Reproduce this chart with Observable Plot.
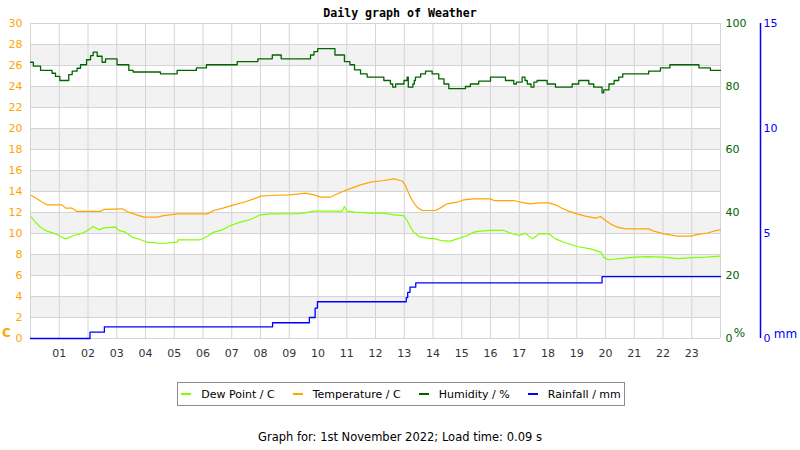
<!DOCTYPE html>
<html><head><meta charset="utf-8">
<script src="https://cdn.jsdelivr.net/npm/d3@7"></script>
<script src="https://cdn.jsdelivr.net/npm/@observablehq/plot@0.6"></script>
<style>
body{margin:0;background:#fff;}
#wrap{position:relative;width:800px;height:450px;font-family:"DejaVu Sans",sans-serif;overflow:hidden;}
#title{position:absolute;top:6px;left:0;width:800px;text-align:center;font:bold 11.6px "DejaVu Sans Mono",monospace;color:#000;}
#chart{position:absolute;top:0;left:0;}
#legend{position:absolute;left:177px;top:382px;width:448px;height:24px;border:1px solid #8c8c8c;display:flex;align-items:center;justify-content:center;box-sizing:border-box;font-size:11px;color:#000;white-space:nowrap;}
#legend .item{display:flex;align-items:center;flex-shrink:0;margin:0 9px;}
#legend .sw{display:inline-block;width:10px;height:2px;margin-right:10px;}
#caption{position:absolute;top:430px;left:0;width:800px;text-align:center;font-size:11.5px;color:#000;}
</style></head>
<body>
<div id="wrap">
  <div id="title"></div>
  <div id="chart"></div>
  <div id="legend"></div>
  <div id="caption"></div>
</div>
<script>
// ---- texts ----
const titleText = "Daily graph of Weather";
const captionText = "Graph for: 1st November 2022; Load time: 0.09 s";
const seriesNames = ["Dew Point / C", "Temperature / C", "Humidity / %", "Rainfall / mm"];
const seriesColors = ["#80ff00", "#ffa500", "#006400", "#0000ff"];

// ---- axis ticks ----
const hourTicks = [1,2,3,4,5,6,7,8,9,10,11,12,13,14,15,16,17,18,19,20,21,22,23];
const tempTicks = [0,2,4,6,8,10,12,14,16,18,20,22,24,26,28,30];
const humTicks = [0,20,40,60,80,100];
const rainTicks = [0,5,10,15];
const bandStarts = [2,6,10,14,18,22,26];

// ---- data (hour of day, value) ----
const tempHour = [0.03,0.23,0.41,0.58,1.1,1.22,1.45,1.62,2.43,2.55,3.19,3.36,3.59,3.94,4.41,4.64,5.1,6.15,6.38,6.72,7.07,7.42,7.77,8.0,8.35,9.04,9.57,9.86,10.09,10.43,10.67,11.01,11.48,11.83,12.29,12.64,12.93,13.04,13.16,13.28,13.45,13.62,14.09,14.26,14.49,14.84,15.07,15.42,16.0,16.12,16.81,17.04,17.39,17.68,18.03,18.26,18.49,18.72,19.01,19.3,19.65,19.83,20.0,20.17,20.41,20.7,21.51,21.68,22.03,22.49,22.96,23.19,23.54,23.88,24.0];
const tempC = [13.62,13.3,12.98,12.73,12.73,12.41,12.41,12.1,12.1,12.29,12.35,12.1,11.87,11.56,11.56,11.71,11.87,11.87,12.19,12.44,12.73,12.98,13.3,13.56,13.62,13.68,13.84,13.68,13.46,13.46,13.78,14.16,14.63,14.89,15.05,15.21,15.0,14.57,13.78,13.14,12.5,12.19,12.19,12.44,12.83,12.98,13.21,13.3,13.3,13.14,13.14,12.98,12.83,12.92,12.92,12.73,12.41,12.13,11.87,11.65,11.46,11.62,11.24,10.92,10.6,10.44,10.44,10.22,9.97,9.75,9.75,9.9,10.05,10.29,10.35];

const dewHour = [0.03,0.17,0.35,0.58,0.87,1.04,1.22,1.51,1.8,2.03,2.18,2.38,2.55,2.96,3.07,3.3,3.54,3.83,4.06,4.6,5.1,5.13,5.91,6.09,6.38,6.67,6.96,7.3,7.65,8.0,8.35,9.39,9.86,10.84,10.92,11.01,11.3,11.83,12.29,12.64,12.98,13.1,13.22,13.33,13.51,13.8,14.09,14.26,14.61,14.84,15.19,15.42,15.65,16.0,16.46,16.7,16.99,17.22,17.45,17.62,17.68,18.03,18.26,18.55,19.01,19.48,19.7,19.85,19.95,20.1,20.5,21.0,21.5,22.0,22.5,23.0,23.5,24.0];
const dewC = [11.56,11.08,10.6,10.22,9.97,9.71,9.49,9.81,10.03,10.35,10.67,10.35,10.54,10.6,10.29,10.13,9.65,9.4,9.17,9.05,9.17,9.4,9.4,9.65,10.13,10.35,10.76,11.08,11.33,11.78,11.87,11.9,12.13,12.13,12.57,12.13,12.03,11.94,11.94,11.78,11.71,11.24,10.6,10.13,9.71,9.56,9.49,9.33,9.27,9.49,9.81,10.13,10.22,10.29,10.29,10.03,9.81,10.03,9.49,9.81,9.97,9.97,9.49,9.17,8.76,8.54,8.35,8.2,7.7,7.5,7.6,7.75,7.8,7.75,7.6,7.7,7.75,7.85];

const humHour = [0.0,0.1,0.35,0.75,0.87,1.02,1.33,1.45,1.62,1.74,1.95,2.09,2.18,2.32,2.49,2.61,3.01,3.42,3.57,4.52,5.1,5.77,6.12,7.19,7.91,8.41,8.72,9.74,9.86,9.99,10.59,10.92,11.11,11.27,11.48,11.71,11.88,12.29,12.52,12.6,12.7,12.99,13.1,13.14,13.3,13.35,13.39,13.57,13.74,13.97,14.2,14.38,14.55,15.13,15.3,15.59,16.0,16.52,16.81,16.9,17.1,17.2,17.28,17.41,17.51,17.62,17.97,18.26,18.84,19.07,19.42,19.59,19.88,19.94,20.12,20.3,20.46,20.6,21.5,21.91,22.24,23.25,23.65,24.0];
const humPct = [87.7,86.5,85.1,84.2,83.2,81.9,83.8,84.9,85.8,86.9,88.5,89.8,90.9,89.6,87.7,88.8,86.9,85.1,84.6,84.0,85.1,85.9,86.9,87.9,88.8,90.0,88.8,90.0,91.1,92.0,90.0,87.9,86.9,85.3,84.0,83.0,83.0,81.9,80.8,79.8,80.8,81.9,83.0,79.8,80.8,81.9,83.0,84.0,84.9,84.0,82.4,80.8,79.3,80.0,80.8,81.7,83.0,81.9,80.8,81.4,83.0,81.9,80.8,79.8,81.4,81.9,80.8,79.8,80.8,81.9,80.8,79.8,78.0,78.9,80.8,81.9,83.0,84.0,84.9,85.9,86.9,85.9,85.1,85.1];

const rainHour = [0,2.07,2.57,8.42,9.7,9.9,9.98,13.07,13.12,13.2,13.4,19.88,24];
const rainMm = [0,0.3,0.55,0.75,1.0,1.45,1.75,1.95,2.2,2.45,2.65,2.95,2.95];

// ---- scale factors so all series share the 0–30 °C frame ----
const humK = 30/100, rainK = 30/15;

const rows = (hs, vs) => hs.map((h,i) => ({h, v: vs[i]}));

const chart = Plot.plot({
  width: 800, height: 370,
  marginLeft: 30, marginRight: 80, marginTop: 23, marginBottom: 32,
  style: {fontFamily: "DejaVu Sans", fontSize: "11px", background: "transparent"},
  x: {domain: [0,24]},
  y: {domain: [0,30]},
  marks: [
    Plot.rect(bandStarts, {x1: () => 0, x2: () => 24, y1: d => d, y2: d => d + 2, fill: "#f2f2f2"}),
    Plot.gridX([0,...hourTicks,24], {stroke: "#d4d4d4", strokeOpacity: 1}),
    Plot.gridY(tempTicks, {stroke: "#d4d4d4", strokeOpacity: 1}),
    Plot.axisX(hourTicks, {tickSize: 0, tickPadding: 11, tickFormat: d3.format("02d"), color: "#333", label: null}),
    Plot.axisY(tempTicks, {anchor: "left", tickSize: 0, tickPadding: 8, color: "#ffa500", label: null}),
    Plot.axisY(humTicks.map(d => d*humK), {anchor: "right", tickSize: 0, tickPadding: 5, tickFormat: d => Math.round(d/humK), color: "#006400", label: null}),
    Plot.axisY(rainTicks.map(d => d*rainK), {anchor: "right", dx: 40, tickSize: 0, tickPadding: 3, tickFormat: d => Math.round(d/rainK), color: "#0000ff", label: null}),
    Plot.ruleX([24], {y1: () => 0, y2: () => 30, dx: 40, stroke: "#0000ff", strokeWidth: 1.5}),
    Plot.text(["C"], {x: () => 0, y: () => 0, dx: -24, dy: -5, fill: "#ffa500", fontWeight: "bold", fontSize: 12}),
    Plot.text(["%"], {x: () => 24, y: () => 0, dx: 19, dy: -5, fill: "#006400", fontSize: 12}),
    Plot.text(["mm"], {x: () => 24, y: () => 0, dx: 65, dy: -4, fill: "#0000ff", fontSize: 12}),
    Plot.line(rows(humHour, humPct), {x: "h", y: d => d.v*humK, curve: "step-after", stroke: seriesColors[2], strokeWidth: 1.3}),
    Plot.line(rows(rainHour, rainMm), {x: "h", y: d => d.v*rainK, curve: "step-after", stroke: seriesColors[3], strokeWidth: 1.3}),
    Plot.line(rows(tempHour, tempC), {x: "h", y: "v", stroke: seriesColors[1], strokeWidth: 1.2}),
    Plot.line(rows(dewHour, dewC), {x: "h", y: "v", stroke: seriesColors[0], strokeWidth: 1.2})
  ]
});
document.getElementById("chart").appendChild(chart);
document.getElementById("title").textContent = titleText;
document.getElementById("caption").textContent = captionText;
const leg = document.getElementById("legend");
seriesNames.forEach((n,i) => {
  const it = document.createElement("div"); it.className = "item";
  const sw = document.createElement("span"); sw.className = "sw"; sw.style.background = seriesColors[i];
  const tx = document.createElement("span"); tx.textContent = n;
  it.appendChild(sw); it.appendChild(tx); leg.appendChild(it);
});
</script>
</body></html>
